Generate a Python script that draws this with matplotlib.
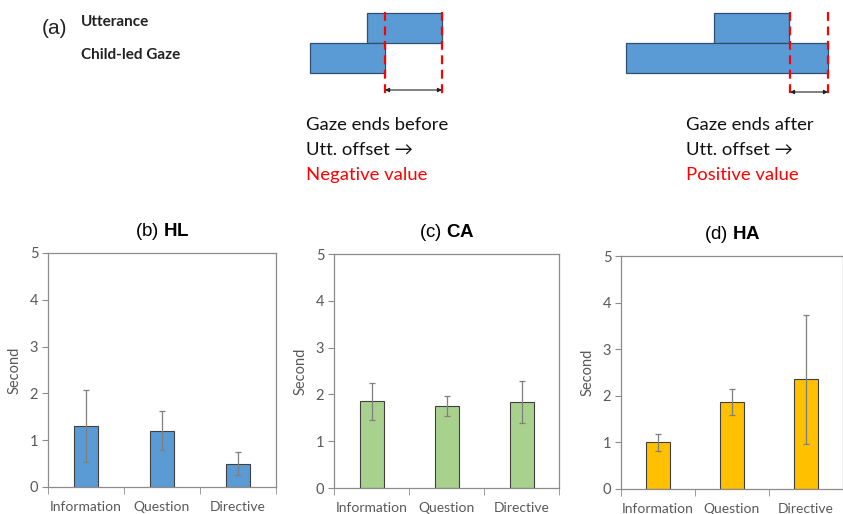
import numpy as np
import matplotlib
matplotlib.use("Agg")
import matplotlib.pyplot as plt
from matplotlib.patches import Rectangle

# ---- data ----
categories = ["Information", "Question", "Directive"]
panel_titles = ["(b) ", "(c) ", "(d) "]
panel_groups = ["HL", "CA", "HA"]
hl_mean = [1.30, 1.20, 0.50]
hl_err = [0.77, 0.42, 0.25]
ca_mean = [1.85, 1.75, 1.84]
ca_err = [0.39, 0.21, 0.45]
ha_mean = [1.00, 1.86, 2.35]
ha_err = [0.19, 0.28, 1.38]
y_ticks = [0, 1, 2, 3, 4, 5]

W, H = 843, 514
plt.rcParams["mathtext.fontset"] = "custom"
plt.rcParams["mathtext.bf"] = "Liberation Sans:bold"
plt.rcParams["mathtext.rm"] = "Liberation Sans"
fig = plt.figure(figsize=(W / 100, H / 100), dpi=100)

BODY = ["Lato", "DejaVu Sans"]
GREY_TXT = "#595959"
SPINE = "#8c8c8c"

# ---- (a) schematic, in pixel coords over the whole figure ----
top = fig.add_axes([0, 0, 1, 1])
top.set_xlim(0, W)
top.set_ylim(H, 0)
top.axis("off")
top.patch.set_alpha(0)

BOX = "#5B9BD5"
EDGE = "#2F4F6F"


def schematic(ax, utt, gaze, red_x, arrow_y, text_x, lines):
    ax.add_patch(Rectangle((utt[0], 13), utt[1] - utt[0], 30, fc=BOX, ec=EDGE, lw=0.9))
    ax.add_patch(Rectangle((gaze[0], 43), gaze[1] - gaze[0], 30, fc=BOX, ec=EDGE, lw=0.9))
    for x in red_x:
        ax.plot([x, x], [12, 97], color="#FF0000", lw=1.6, ls=(0, (4, 2.5)))
    ax.annotate("", xy=(red_x[1], arrow_y), xytext=(red_x[0], arrow_y),
                arrowprops=dict(arrowstyle="<|-|>", color="#222222", lw=0.8,
                                mutation_scale=6, shrinkA=0, shrinkB=0))
    for i, (txt, col) in enumerate(lines):
        ax.text(text_x, 125 + i * 25, txt, color=col, fontsize=13.3,
                family=BODY, va="center", ha="left")


top.text(42, 28, "(a)", fontsize=15, family=["Liberation Sans", "DejaVu Sans"],
         va="center", ha="left", color="#222222")
top.text(81, 22, "Utterance", fontsize=11, fontweight="bold", family=BODY,
         va="center", ha="left", color="#222222")
top.text(81, 55, "Child-led Gaze", fontsize=11, fontweight="bold", family=BODY,
         va="center", ha="left", color="#222222")

schematic(top, (367, 442), (310, 385), (385, 442), 90, 306,
          [("Gaze ends before", "#111111"), ("Utt. offset \u2192", "#111111"),
           ("Negative value", "#FF0000")])
schematic(top, (714, 789), (626, 828), (790, 828), 92, 686,
          [("Gaze ends after", "#111111"), ("Utt. offset \u2192", "#111111"),
           ("Positive value", "#FF0000")])

# ---- (b)-(d) bar panels ----
rects = [
    (48, 253, 487),
    (334, 254, 488),
    (621, 256, 489),
]
widths = [228, 225, 222]
means = [hl_mean, ca_mean, ha_mean]
errs = [hl_err, ca_err, ha_err]
colors = ["#5B9BD5", "#A9D18E", "#FFC000"]
x = np.arange(len(categories))

for i in range(3):
    left, ytop, ybot = rects[i]
    ax = fig.add_axes([left / W, (H - ybot) / H, widths[i] / W, (ybot - ytop) / H])
    ax.bar(x, means[i], width=0.32, color=colors[i], edgecolor="#404040", lw=0.8,
           zorder=2)
    ax.errorbar(x, means[i], yerr=errs[i], fmt="none", ecolor="#7f7f7f",
                elinewidth=0.9, capsize=2.5, capthick=0.9, zorder=3)
    ax.set_xlim(-0.5, 2.5)
    ax.set_ylim(0, 5)
    ax.set_yticks(y_ticks)
    ax.set_xticks(x)
    ax.set_xticklabels(categories)
    ax.set_xticks([-0.5, 0.5, 1.5, 2.5], minor=True)
    ax.tick_params(axis="x", which="major", length=0, pad=10, labelsize=10,
                   labelcolor=GREY_TXT)
    ax.tick_params(axis="x", which="minor", length=5, direction="out", color=SPINE)
    ax.tick_params(axis="y", length=4, direction="out", color=SPINE, labelsize=10.5,
                   labelcolor=GREY_TXT, pad=3)
    for lab in ax.get_xticklabels() + ax.get_yticklabels():
        lab.set_family(BODY)
    for sp in ax.spines.values():
        sp.set_color(SPINE)
        sp.set_linewidth(0.9)
    ax.set_ylabel("Second", fontsize=10.5, color=GREY_TXT, family=BODY, labelpad=6)
    ax.set_title(panel_titles[i] + r"$\bf{" + panel_groups[i] + "}$", fontsize=13.5,
                 family=["Liberation Sans", "DejaVu Sans"], pad=12)

fig.savefig("out.png", dpi=100)
